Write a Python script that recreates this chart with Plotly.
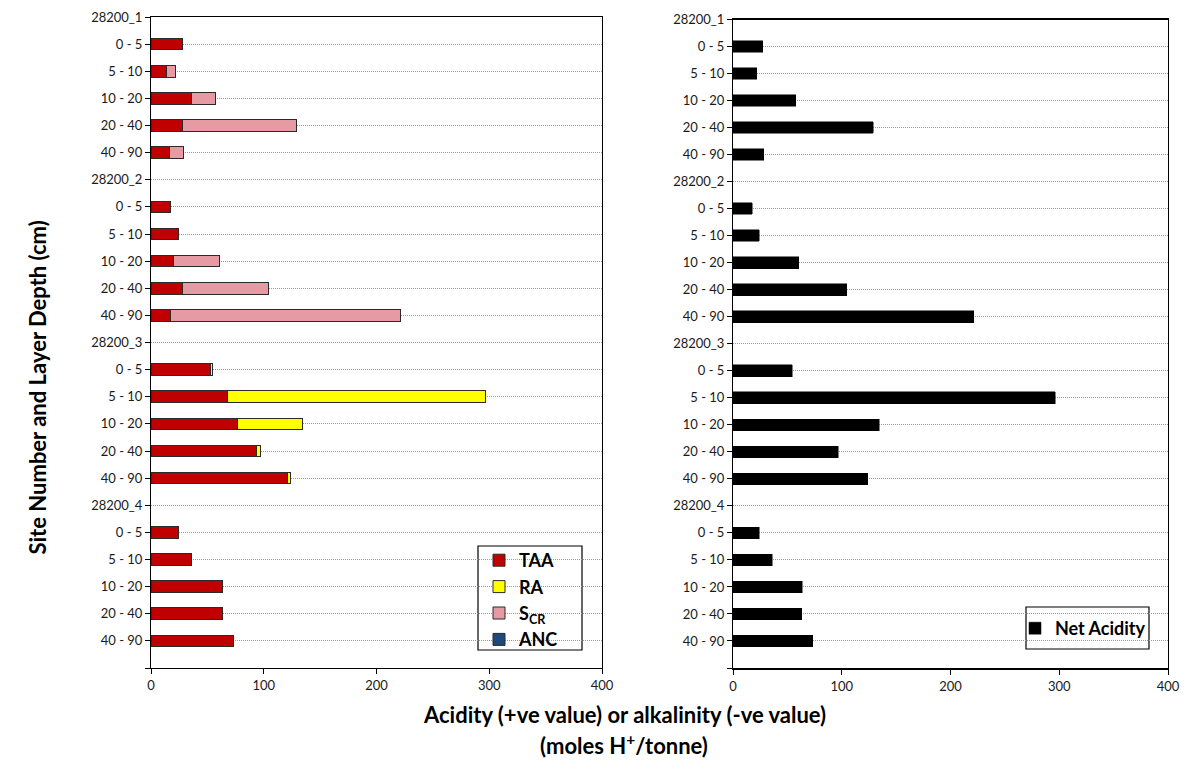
import plotly.graph_objects as go

# Site / layer labels, top to bottom
labels = ["28200_1", "0 - 5", "5 - 10", "10 - 20", "20 - 40", "40 - 90",
          "28200_2", "0 - 5", "5 - 10", "10 - 20", "20 - 40", "40 - 90",
          "28200_3", "0 - 5", "5 - 10", "10 - 20", "20 - 40", "40 - 90",
          "28200_4", "0 - 5", "5 - 10", "10 - 20", "20 - 40", "40 - 90"]

# Acidity components (moles H+/tonne); None marks the site header rows
taa = [None, 27.5, 14, 36, 27.5, 16,
       None, 17.5, 24, 20, 27.5, 17.5,
       None, 52.5, 68, 77, 94, 121.5,
       None, 24, 36, 63.5, 63, 73.5]
ra = [None, 0, 0, 0, 0, 0,
      None, 0, 0, 0, 0, 0,
      None, 2, 228.5, 57.5, 3, 2.5,
      None, 0, 0, 0, 0, 0]
scr = [None, 0, 8, 21.5, 101.5, 12.5,
       None, 0, 0, 40.5, 77, 204,
       None, 0, 0, 0, 0, 0,
       None, 0, 0, 0, 0, 0]
anc = [None, 0, 0, 0, 0, 0,
       None, 0, 0, 0, 0, 0,
       None, 0, 0, 0, 0, 0,
       None, 0, 0, 0, 0, 0]
net_acidity = [None, 27.5, 22, 57.5, 129, 28.5,
               None, 17.5, 24, 60.5, 104.5, 221.5,
               None, 54.5, 296.5, 134.5, 97, 124,
               None, 24, 36, 63.5, 63, 73.5]

x_ticks = [0, 100, 200, 300, 400]

pos = list(range(len(labels)))
tickvals = pos + [len(labels)]
ticktext = labels + [""]

FONT = "Lato, 'Open Sans', sans-serif"
BAR_W = 0.43
H = 774.0
W = 1190.0

fig = go.Figure()

components = [
    ("<b>TAA</b>", taa, "#C00000"),
    ("<b>RA</b>", ra, "#FFFF00"),
    ("<b>S<sub>CR</sub></b>", scr, "#E59AA4"),
    ("<b>ANC</b>", anc, "#1F497D"),
]
for i, (name, vals, color) in enumerate(components):
    fig.add_trace(go.Bar(
        x=vals, y=pos, orientation="h", name=name, width=BAR_W,
        marker=dict(color=color, line=dict(color="#2a2a2a", width=1)),
        xaxis="x", yaxis="y", legend="legend", legendgroup=f"g{i}",
    ))

fig.add_trace(go.Bar(
    x=net_acidity, y=pos, orientation="h", name="<b>Net Acidity</b>",
    width=BAR_W,
    marker=dict(color="#000000", line=dict(color="#000000", width=0.5)),
    xaxis="x2", yaxis="y2", legend="legend2",
))

tick_font = dict(family=FONT, size=13, color="#1a1a1a")


def yaxis_style(domain, anchor):
    return dict(
        domain=domain, anchor=anchor, range=[len(labels), 0],
        tickmode="array", tickvals=tickvals, ticktext=ticktext,
        tickfont=tick_font, ticks="outside", ticklen=5, tickcolor="#000000",
        showline=True, linecolor="#000000", linewidth=1, mirror=True,
        showgrid=True, gridcolor="#9a9a9a", griddash="1px,1px", gridwidth=1,
        zeroline=False, automargin=False,
    )


def xaxis_style(domain, anchor, lw):
    return dict(
        domain=domain, anchor=anchor, range=[0, 400],
        tickmode="array", tickvals=x_ticks, tickfont=tick_font,
        ticks="outside", ticklen=5, tickcolor="#000000",
        showline=True, linecolor="#000000", linewidth=lw, mirror=True,
        showgrid=False, zeroline=False, automargin=False,
    )


legend_font = dict(family=FONT, size=18, color="#000000")

fig.update_layout(
    width=1190, height=774,
    margin=dict(l=0, r=0, t=0, b=0),
    paper_bgcolor="#ffffff", plot_bgcolor="#ffffff",
    barmode="stack",
    font=dict(family=FONT, color="#000000"),
    xaxis=xaxis_style([151 / W, 602 / W], "y", 1),
    yaxis=yaxis_style([1 - 668 / H, 1 - 17 / H], "x"),
    xaxis2=xaxis_style([733 / W, 1168 / W], "y2", 2),
    yaxis2=yaxis_style([1 - 668 / H, 1 - 19.5 / H], "x2"),
    legend=dict(
        x=479 / W, y=1 - 542 / H, xanchor="left", yanchor="top",
        bgcolor="rgba(0,0,0,0)", borderwidth=0,
        font=legend_font, traceorder="normal", tracegroupgap=1,
        itemwidth=30,
    ),
    legend2=dict(
        x=1015 / W, y=1 - 610 / H, xanchor="left", yanchor="top",
        bgcolor="rgba(0,0,0,0)", borderwidth=0,
        font=legend_font, itemwidth=30,
    ),
    showlegend=True,
)

# Legend frames
for x0, y0, x1, y1 in [(478, 546, 582, 650), (1026, 607, 1149, 649)]:
    fig.add_shape(
        type="rect", xref="paper", yref="paper",
        x0=x0 / W, x1=x1 / W, y0=1 - y1 / H, y1=1 - y0 / H,
        line=dict(color="#000000", width=1.2), fillcolor="#ffffff",
        layer="between",
    )

# Axis titles drawn as annotations so they span both panels
fig.add_annotation(
    text="<b>Site Number and Layer Depth (cm)</b>",
    x=21 / W, y=1 - 388 / H, xref="paper", yref="paper",
    textangle=-90, showarrow=False,
    font=dict(family=FONT, size=22, color="#000000"),
)
fig.add_annotation(
    text="<b>Acidity (+ve value) or alkalinity (-ve value)</b>",
    x=624 / W, y=1 - 730 / H, xref="paper", yref="paper",
    showarrow=False, font=dict(family=FONT, size=22, color="#000000"),
)
fig.add_annotation(
    text="<b>(moles H<sup>+</sup>/tonne)</b>",
    x=624 / W, y=1 - 761 / H, xref="paper", yref="paper",
    showarrow=False, font=dict(family=FONT, size=22, color="#000000"),
)

fig.write_html("out.html")
